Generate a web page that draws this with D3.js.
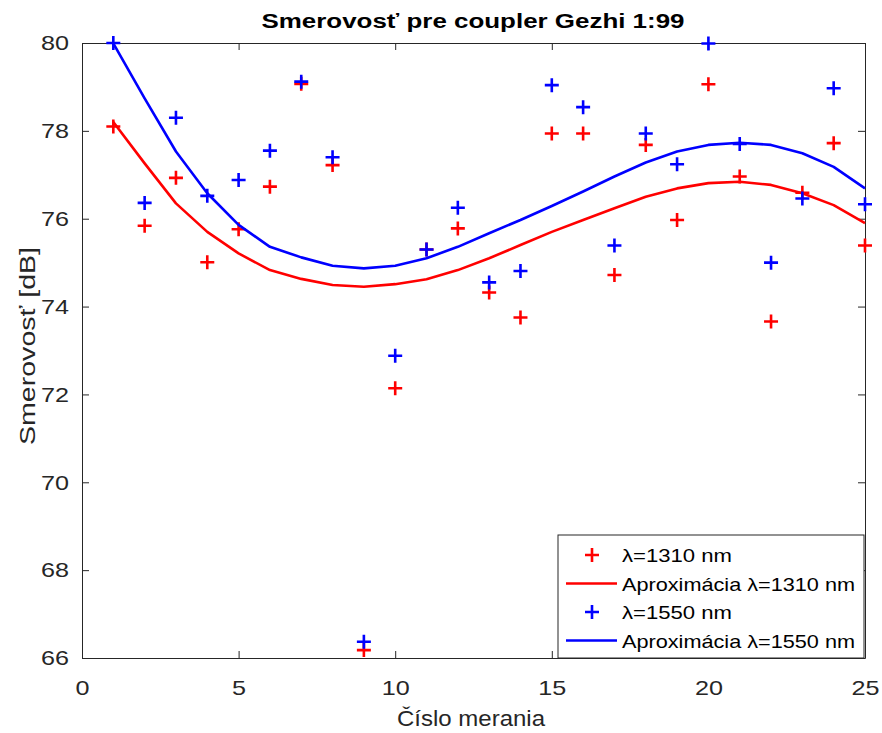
<!DOCTYPE html>
<html>
<head>
<meta charset="utf-8">
<script src="https://cdn.jsdelivr.net/npm/d3@7"></script>
<style>
  body { margin: 0; background: #fff; }
  svg { font-family: "Liberation Sans", Arial, Helvetica, sans-serif; }
</style>
</head>
<body>
<svg id="chart" width="882" height="733"></svg>
<script>
// číslo merania
const merania = d3.range(1, 26);

// namerané hodnoty smerovosti [dB]
const smer1310 = [78.10, 75.84, 76.93, 75.01, 75.76, 76.73, 79.07, 77.22, 66.18, 72.14,
  75.30, 75.78, 74.32, 73.75, 77.94, 77.94, 74.72, 77.68, 75.97, 79.06,
  76.96, 73.66, 76.59, 77.72, 75.39];
const smer1550 = [80.00, 76.36, 78.30, 76.52, 76.88, 77.55, 79.12, 77.40, 66.37, 72.88,
  75.30, 76.25, 74.55, 74.81, 79.04, 78.54, 75.39, 77.94, 77.24, 79.99,
  77.70, 75.00, 76.46, 78.97, 76.33];

// aproximácia (odčítané z obrázka)
const aprox1310 = [78.20, 77.26, 76.35, 75.70, 75.21, 74.83, 74.63, 74.49, 74.45, 74.51,
  74.62, 74.83, 75.10, 75.40, 75.70, 75.97, 76.24, 76.50, 76.69, 76.81,
  76.84, 76.77, 76.58, 76.31, 75.90];
const aprox1550 = [79.99, 78.74, 77.53, 76.58, 75.86, 75.36, 75.12, 74.93, 74.87, 74.93,
  75.10, 75.36, 75.67, 75.97, 76.29, 76.62, 76.96, 77.28, 77.53, 77.68,
  77.73, 77.68, 77.49, 77.18, 76.69];

const xTicks = [0, 5, 10, 15, 20, 25];
const yTicks = [66, 68, 70, 72, 74, 76, 78, 80];

const legendLabels = ['λ=1310 nm', 'Aproximácia λ=1310 nm', 'λ=1550 nm', 'Aproximácia λ=1550 nm'];
const legendColors = ['#ff0000', '#ff0000', '#0000ff', '#0000ff'];
const legendTypes = ['marker', 'line', 'marker', 'line'];

const svg = d3.select('#chart');
const plot = { left: 82, right: 865, top: 43, bottom: 658 };
const axisColor = '#262626';

const x = d3.scaleLinear().domain([0, 25]).range([plot.left, plot.right]);
const y = d3.scaleLinear().domain([66, 80]).range([plot.bottom, plot.top]);

// obrázok je trochu roztiahnutý do šírky, preto textLength
function styleAxis(g) {
  g.select('.domain').attr('stroke', axisColor);
  g.selectAll('.tick line').attr('stroke', axisColor);
  g.selectAll('.tick text')
    .attr('fill', axisColor)
    .attr('font-size', '21px')
    .attr('lengthAdjust', 'spacingAndGlyphs')
    .attr('textLength', function () { return this.textContent.length * 14; });
}

svg.append('g')
  .attr('transform', `translate(0,${plot.bottom})`)
  .call(d3.axisBottom(x).tickValues(xTicks).tickSizeInner(-7).tickSizeOuter(0).tickPadding(22))
  .call(styleAxis);

svg.append('g')
  .attr('transform', `translate(0,${plot.top})`)
  .call(d3.axisTop(x).tickValues(xTicks).tickSizeInner(-7).tickSizeOuter(0).tickFormat(''))
  .call(styleAxis);

svg.append('g')
  .attr('transform', `translate(${plot.left},0)`)
  .call(d3.axisLeft(y).tickValues(yTicks).tickSizeInner(-7).tickSizeOuter(0).tickPadding(13))
  .call(styleAxis);

svg.append('g')
  .attr('transform', `translate(${plot.right},0)`)
  .call(d3.axisRight(y).tickValues(yTicks).tickSizeInner(-7).tickSizeOuter(0).tickFormat(''))
  .call(styleAxis);

// krivky aproximácie
const line = d3.line()
  .x((d, i) => x(merania[i]))
  .y(d => y(d));

function drawMarkers(values, color) {
  svg.append('g')
    .selectAll('path')
    .data(values)
    .join('path')
    .attr('transform', (d, i) => `translate(${x(merania[i])},${y(d)})`)
    .attr('d', 'M-7,0H7M0,-7V7')
    .attr('stroke', color)
    .attr('stroke-width', 2.6)
    .attr('fill', 'none');
}

function drawLine(values, color) {
  svg.append('path')
    .datum(values)
    .attr('d', line)
    .attr('fill', 'none')
    .attr('stroke', color)
    .attr('stroke-width', 2.6)
    .attr('stroke-linejoin', 'round');
}

drawMarkers(smer1310, '#ff0000');
drawLine(aprox1310, '#ff0000');
drawMarkers(smer1550, '#0000ff');
drawLine(aprox1550, '#0000ff');

// titulok a popisy osí
svg.append('text')
  .attr('x', 473)
  .attr('y', 28)
  .attr('text-anchor', 'middle')
  .attr('font-size', '20px')
  .attr('font-weight', 'bold')
  .attr('fill', '#000')
  .attr('lengthAdjust', 'spacingAndGlyphs')
  .attr('textLength', 423)
  .text('Smerovosť pre coupler Gezhi 1:99');

svg.append('text')
  .attr('x', 471)
  .attr('y', 726)
  .attr('text-anchor', 'middle')
  .attr('font-size', '22px')
  .attr('fill', axisColor)
  .attr('lengthAdjust', 'spacingAndGlyphs')
  .attr('textLength', 148)
  .text('Číslo merania');

svg.append('text')
  .attr('transform', `translate(35,346) rotate(-90)`)
  .attr('text-anchor', 'middle')
  .attr('font-size', '22px')
  .attr('fill', axisColor)
  .attr('lengthAdjust', 'spacingAndGlyphs')
  .attr('textLength', 198)
  .text('Smerovosť [dB]');

// legenda
const legend = svg.append('g').attr('transform', 'translate(558,535)');
legend.append('rect')
  .attr('width', 306)
  .attr('height', 123)
  .attr('fill', '#fff')
  .attr('stroke', axisColor)
  .attr('stroke-width', 1);

const rows = legend.selectAll('g.row')
  .data(legendLabels)
  .join('g')
  .attr('class', 'row')
  .attr('transform', (d, i) => `translate(0,${20 + i * 28.5})`);

rows.filter((d, i) => legendTypes[i] === 'marker')
  .append('path')
  .attr('d', 'M27,0H41M34,-7V7')
  .attr('stroke', (d, i, n) => legendColors[legendLabels.indexOf(d)])
  .attr('stroke-width', 2.6);

rows.filter((d, i) => legendTypes[i] === 'line')
  .append('line')
  .attr('x1', 8)
  .attr('x2', 59)
  .attr('stroke', d => legendColors[legendLabels.indexOf(d)])
  .attr('stroke-width', 2.6);

rows.append('text')
  .attr('x', 64)
  .attr('y', 7)
  .attr('font-size', '19px')
  .attr('fill', '#000')
  .attr('lengthAdjust', 'spacingAndGlyphs')
  .attr('textLength', (d, i) => legendTypes[i] === 'line' ? 233 : 110)
  .text(d => d);
</script>
</body>
</html>
